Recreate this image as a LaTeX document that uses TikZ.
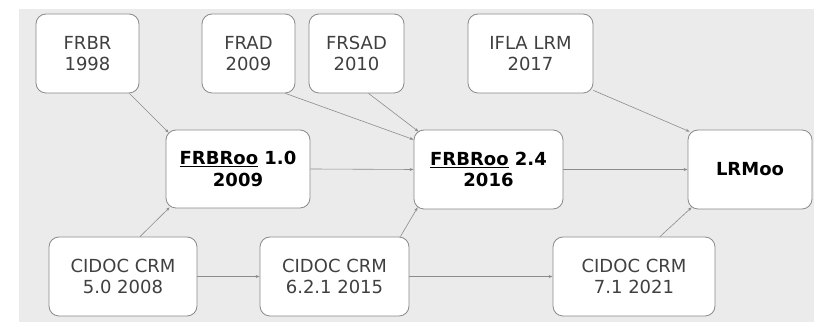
\documentclass[tikz,border=0pt]{standalone}
\usepackage{fontspec}
\setmainfont{DejaVu Sans}
\usetikzlibrary{calc,arrows.meta}
\definecolor{bggray}{HTML}{EBEBEB}
\definecolor{boxline}{HTML}{8A8A8A}
\definecolor{txtgray}{HTML}{404040}
\definecolor{arrgray}{HTML}{8C8C8C}
\tikzset{
  box/.style={draw=boxline, line width=0.8pt, fill=white, rounded corners=10pt,
    minimum height=79pt, inner sep=0pt, align=center, text=txtgray,
    font=\fontsize{18}{21.5}\selectfont},
  boldbox/.style={box, text=black, font=\fontsize{18}{21.5}\selectfont\bfseries},
  arr/.style={draw=arrgray, line width=0.6pt, -{Stealth[length=4pt,width=3pt]}}
}
\begin{document}
\begin{tikzpicture}[x=1pt,y=1pt]
\useasboundingbox (0,0) rectangle (814,323);
\fill[bggray] (19,1) rectangle (814,314);
\node[box, minimum width=103pt] (frbr) at (87.5,269.5) {FRBR\\1998};
\node[box, minimum width=93pt] (frad) at (248.5,269.5) {FRAD\\2009};
\node[box, minimum width=95pt] (frsad) at (356.5,269.5) {FRSAD\\2010};
\node[box, minimum width=125pt] (ifla) at (530.5,269.5) {IFLA LRM\\2017};
\node[boldbox, minimum width=144pt, minimum height=78pt] (f1) at (238,154) {\underline{FRBRoo} 1.0\\2009};
\node[boldbox, minimum width=149pt] (f24) at (488.5,153.5) {\underline{FRBRoo} 2.4\\2016};
\node[boldbox, minimum width=124pt] (lrm) at (750,153.5) {LRMoo};
\node[box, minimum width=148pt] (c5) at (123,46.5) {CIDOC CRM\\5.0 2008};
\node[box, minimum width=149pt] (c6) at (334.5,46.5) {CIDOC CRM\\6.2.1 2015};
\node[box, minimum width=162pt] (c7) at (634,46.5) {CIDOC CRM\\7.1 2021};
\draw[arr] ($(frbr.south east)+(-10,0)$) -- ($(f1.north west)+(3,-3)$);
\draw[arr] ($(frad.south east)+(-10,0)$) -- ($(f24.north west)+(0,-10)$);
\draw[arr] ($(frsad.south)+(12,0)$) -- ($(f24.north west)+(5,-2)$);
\draw[arr] ($(ifla.south east)+(0,3)$) -- ($(lrm.north west)+(2,-2)$);
\draw[arr] (f1.east) -- (f24.west);
\draw[arr] (f24.east) -- (lrm.west);
\draw[arr] ($(c5.north)+(17,0)$) -- ($(f1.south west)+(4,1)$);
\draw[arr] (c5.east) -- (c6.west);
\draw[arr] ($(c6.north east)+(-9,0)$) -- ($(f24.south west)+(4,2)$);
\draw[arr] (c6.east) -- (c7.west);
\draw[arr] ($(c7.north)+(26,0)$) -- ($(lrm.south west)+(4,2)$);
\end{tikzpicture}
\end{document}
